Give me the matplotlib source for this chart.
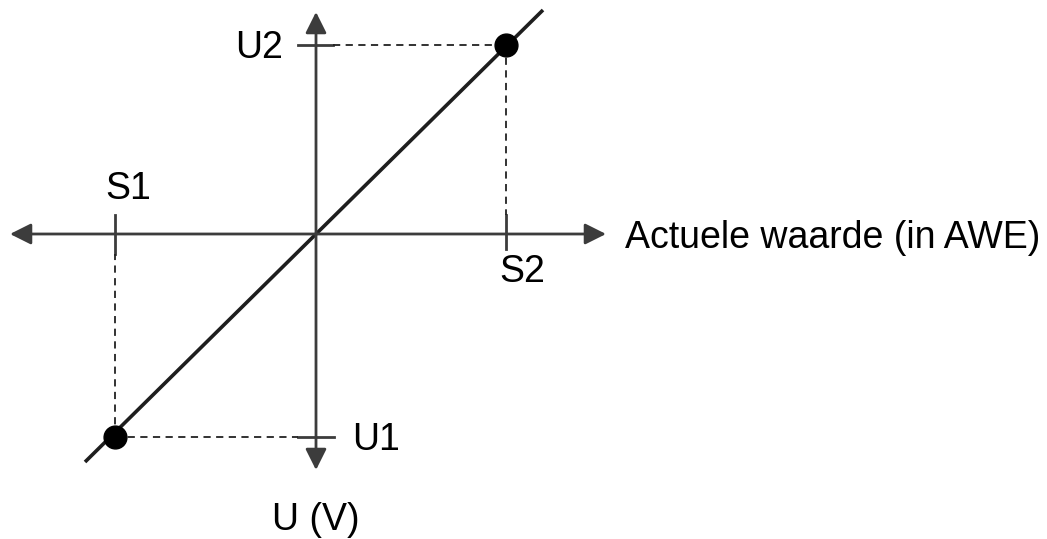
import matplotlib.pyplot as plt

# calibration points (data units, origin where the axes cross)
s_vals = [-201, 190]      # S1, S2 on the horizontal axis
u_vals = [-203, 189]      # U1, U2 on the vertical axis
s_labels = ["S1", "S2"]
u_labels = ["U1", "U2"]

line_x = [-231, 227]
line_y = [-228, 224]

x_axis = [-306, 290]
y_axis = [-236, 222]

x_title = "Actuele waarde (in AWE)"
y_title = "U (V)"

plt.rcParams['font.family'] = ['Liberation Sans', 'DejaVu Sans']

fig = plt.figure(figsize=(10.47, 5.39), dpi=100)
ax = fig.add_axes([0, 0, 1, 1])
ax.set_xlim(-316, 731)
ax.set_ylim(-305, 234)
ax.axis('off')

axis_col = "#3c3c3c"
arrow = dict(arrowstyle='-|>', color=axis_col, lw=2, mutation_scale=32, shrinkA=0, shrinkB=0)

# axes with arrow heads at both ends
ax.annotate("", xy=(x_axis[1], 0), xytext=(0, 0), arrowprops=arrow)
ax.annotate("", xy=(x_axis[0], 0), xytext=(0, 0), arrowprops=arrow)
ax.annotate("", xy=(0, y_axis[1]), xytext=(0, 0), arrowprops=arrow)
ax.annotate("", xy=(0, y_axis[0]), xytext=(0, 0), arrowprops=arrow)

# tick marks
ax.plot([s_vals[0]] * 2, [-20, 19], color=axis_col, lw=2)
ax.plot([s_vals[1]] * 2, [-15, 19], color=axis_col, lw=2)
ax.plot([-18, 17], [u_vals[1]] * 2, color=axis_col, lw=2)
ax.plot([-18, 18], [u_vals[0]] * 2, color=axis_col, lw=2)

# dashed guides
dash = dict(color="#222222", lw=1.3, ls=(0, (4, 3)))
ax.plot([s_vals[0], s_vals[0]], [u_vals[0], -20], **dash)
ax.plot([s_vals[0], -18], [u_vals[0], u_vals[0]], **dash)
ax.plot([s_vals[1], s_vals[1]], [u_vals[1], 19], **dash)
ax.plot([17, s_vals[1]], [u_vals[1], u_vals[1]], **dash)

# characteristic line
ax.plot(line_x, line_y, color="#1e1e1e", lw=2.6, solid_capstyle='butt')
ax.scatter(s_vals, u_vals, s=270, color="black", zorder=5)

fs = 27
ax.text(s_vals[0] + 13, 45, s_labels[0], fontsize=fs, ha='center', va='center')
ax.text(s_vals[1] + 16, -38, s_labels[1], fontsize=fs, ha='center', va='center')
ax.text(-33, u_vals[1] - 3, u_labels[1], fontsize=fs, ha='right', va='center')
ax.text(36, u_vals[0] - 3, u_labels[0], fontsize=fs, ha='left', va='center')
ax.text(309, -4, x_title, fontsize=fs, ha='left', va='center')
ax.text(0, -286, y_title, fontsize=fs, ha='center', va='center')

fig.savefig("out.png", dpi=100)
